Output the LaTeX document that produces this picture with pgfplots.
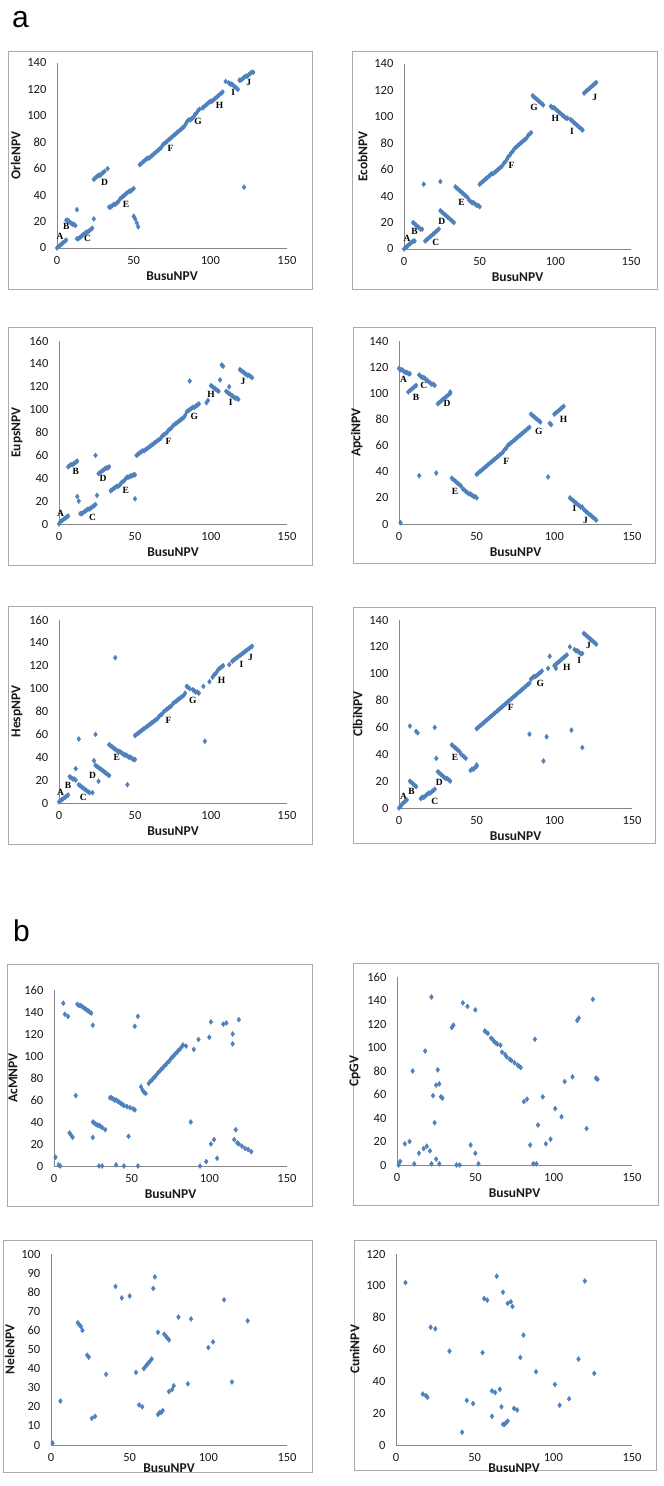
\documentclass[border=0pt]{standalone}
\usepackage{fontspec}
\setmainfont{Carlito}
\newfontfamily\serifl{Liberation Serif}
\newfontfamily\arialf{Liberation Sans}
\usepackage{pgfplots}
\pgfplotsset{compat=1.18}
\definecolor{ptblue}{RGB}{79,129,189}
\definecolor{axgray}{RGB}{134,134,134}
\definecolor{framegray}{RGB}{170,170,170}

\pgfplotsset{
  panel/.style={
    scale only axis, anchor=south west, clip=false,
    xmin=0, xmax=150, ymin=0, xtick={0,50,100,150},
    axis x line=bottom, axis y line=left,
    axis line style={draw=axgray, -},
    tick style={draw=none},
    tick label style={font=\fontsize{12.5}{12.5}\selectfont, text=black!90},
    /pgf/number format/assume math mode=true,
    xlabel={BusuNPV},
    label style={font=\fontsize{13.5}{13.5}\selectfont\bfseries, text=black!90},
    yticklabel style={xshift=-5pt},
    xticklabel style={yshift=-3pt},
  },
  pts/.style={only marks, mark=diamond*, mark size=2.5pt, color=ptblue},
}
\tikzset{lab/.style={font=\serifl\bfseries\fontsize{9.5}{9.5}\selectfont, inner sep=0pt}}

\begin{document}
\begin{tikzpicture}
\path[use as bounding box, fill=white] (0pt,0pt) rectangle (664pt,1486pt);

% panel frames
\begin{scope}[x=1pt,y=1pt]
\draw[framegray] (8,1197) rectangle (312,1435);
\draw[framegray] (352,1197) rectangle (657,1435);
\draw[framegray] (8,921) rectangle (312,1159);
\draw[framegray] (353,923) rectangle (655,1159);
\draw[framegray] (8,642) rectangle (312,880);
\draw[framegray] (353,643) rectangle (655,879);
\draw[framegray] (7,280) rectangle (312,522);
\draw[framegray] (353,281) rectangle (658,523);
\draw[framegray] (3,14) rectangle (312,246);
\draw[framegray] (354,16) rectangle (656,246);
\node[font=\arialf\fontsize{30}{30}\selectfont, anchor=base west, inner sep=0pt] at (12,1458) {a};
\node[font=\arialf\fontsize{30}{30}\selectfont, anchor=base west, inner sep=0pt] at (13,544) {b};
\end{scope}

% ---- a: OrleNPV
\begin{axis}[panel, at={(57pt,1238pt)}, width=230pt, height=185pt, ymax=140, ytick={0,20,...,140}, ylabel={OrleNPV}]
\addplot[pts] coordinates {
(0,0) (1,1) (2,2) (3,3) (4,4) (5,5) (6,6)
(6,21) (7,21) (8,20) (9,19) (10,18) (11,18) (12,17) (13,29)
(13,7) (14,7) (15,8) (16,9) (17,10) (18,11) (19,12) (20,12) (21,13) (22,14) (23,15) (24,22)
(24,52) (25,53) (26,54) (27,55) (28,55) (29,56) (30,57) (31,58) (33,60)
(34,31) (35,31) (36,32) (37,33) (38,33) (39,34) (40,35) (41,37) (42,38) (43,39) (44,40) (45,41) (46,42) (47,43) (48,43) (49,44) (50,45)
(50,24) (51,22) (52,19) (53,16)
(54,63) (55,64) (56,65) (57,66) (58,67) (59,68) (60,68) (61,69) (62,70) (63,71) (64,72) (65,73) (66,74) (67,75) (68,76) (69,78) (70,79) (71,80) (72,81) (73,82) (74,83) (75,84) (76,85) (77,86) (78,87) (79,88) (80,89) (81,90) (82,91) (83,92) (84,94)
(85,96) (86,97) (87,97) (88,98) (89,99) (90,101) (91,102) (92,104) (93,105)
(95,106) (96,107) (97,108) (98,109) (99,110) (100,111) (101,111) (102,112) (103,113) (104,114) (105,115) (106,116) (107,117) (108,118)
(110,126) (112,125) (113,124) (114,124) (115,123) (116,122) (117,121) (118,120)
(119,127) (120,127) (121,128) (122,129) (123,130) (124,130) (125,131) (126,132) (127,133) (128,133)
(122,46)
};
\node[lab] at (axis cs:2,9) {A}; \node[lab] at (axis cs:6,16) {B};
\node[lab] at (axis cs:20,7) {C}; \node[lab] at (axis cs:31,50) {D};
\node[lab] at (axis cs:45,33) {E}; \node[lab] at (axis cs:74,75) {F};
\node[lab] at (axis cs:92,96) {G}; \node[lab] at (axis cs:106,108) {H};
\node[lab] at (axis cs:115,118) {I}; \node[lab] at (axis cs:125,125) {J};
\end{axis}

% ---- a: EcobNPV
\begin{axis}[panel, at={(404pt,1237pt)}, width=227pt, height=185pt, ymax=140, ytick={0,20,...,140}, ylabel={EcobNPV}]
\addplot[pts] coordinates {
(0,0) (1,1) (2,2) (3,3) (4,4) (5,5) (6,6) (7,6)
(6,20) (7,19) (8,18) (9,17) (10,16) (11,15) (12,15)
(13,49) (24,51)
(14,6) (15,7) (16,8) (17,9) (18,10) (19,11) (20,12) (21,13) (22,14) (23,15)
(24,29) (25,28) (26,27) (27,26) (28,25) (29,24) (30,23) (31,22) (32,21) (33,20)
(34,47) (35,46) (36,45) (37,44) (38,43) (39,42) (40,41) (41,40) (42,39) (43,37) (44,36) (45,35) (46,35) (47,34) (48,33) (49,33) (50,32)
(50,49) (51,50) (52,51) (53,52) (54,53) (55,54) (56,55) (57,56) (58,57) (59,57) (60,58) (61,59) (62,60) (63,61) (64,62) (65,63) (66,65) (67,66) (68,68) (69,70) (70,71) (71,73) (72,74) (73,76) (74,77) (75,78) (76,79) (77,80) (78,81) (79,82) (80,83) (81,84) (82,86) (83,87) (84,88)
(85,116) (86,115) (87,114) (88,113) (89,112) (90,111) (91,110) (92,109)
(97,108) (98,107) (99,107) (100,106) (101,105) (102,104) (103,103) (104,102) (105,101) (106,100) (107,99) (108,99)
(110,98) (111,97) (112,96) (113,95) (114,94) (115,93) (116,92) (117,91) (118,90)
(119,118) (120,119) (121,120) (122,121) (123,122) (124,123) (125,124) (126,125) (127,126)
};
\node[lab] at (axis cs:2,8) {A}; \node[lab] at (axis cs:7,13) {B};
\node[lab] at (axis cs:21,5) {C}; \node[lab] at (axis cs:25,21) {D};
\node[lab] at (axis cs:38,35) {E}; \node[lab] at (axis cs:71,63) {F};
\node[lab] at (axis cs:86,107) {G}; \node[lab] at (axis cs:100,99) {H};
\node[lab] at (axis cs:111,89) {I}; \node[lab] at (axis cs:126,115) {J};
\end{axis}

% ---- a: EupsNPV
\begin{axis}[panel, at={(59pt,962pt)}, width=228pt, height=183pt, ymax=160, ytick={0,20,...,160}, ylabel={EupsNPV}]
\addplot[pts] coordinates {
(0,0) (1,2) (2,3) (3,4) (4,5) (5,6) (6,7)
(6,50) (7,51) (8,52) (9,52) (10,53) (11,54) (12,55)
(12,24) (13,20)
(14,9) (15,9) (16,10) (17,11) (18,12) (19,13) (20,13) (21,14) (22,15) (23,16) (24,17)
(25,25) (24,60)
(26,44) (27,45) (28,46) (29,47) (30,48) (31,49) (32,49) (33,50)
(34,29) (35,30) (36,31) (37,32) (38,33) (39,33) (40,34) (41,36) (42,37) (43,38) (44,40) (45,41) (46,41) (47,42) (48,42) (49,43) (50,43)
(50,22)
(51,60) (52,61) (53,62) (54,63) (55,64) (56,64) (57,65) (58,66) (59,67) (60,68) (61,69) (62,70) (63,71) (64,72) (65,73) (66,74) (67,75) (68,77) (69,78) (70,79) (71,80) (72,82) (73,83) (74,84) (75,86) (76,87) (77,88) (78,89) (79,90) (80,91) (81,92) (82,93) (83,95)
(84,98) (85,99) (86,100) (87,101) (88,102) (89,102) (90,103) (91,104) (92,105)
(86,125) (97,106) (98,108)
(100,121) (101,120) (102,119) (103,118) (104,117) (105,116)
(106,126) (107,139) (108,138) (112,120)
(110,116) (111,115) (112,114) (113,113) (114,112) (115,111) (116,110) (117,110) (118,109)
(119,135) (120,134) (121,133) (122,132) (123,131) (124,130) (125,130) (126,129) (127,128)
};
\node[lab] at (axis cs:1,9) {A}; \node[lab] at (axis cs:11,46) {B};
\node[lab] at (axis cs:22,6) {C}; \node[lab] at (axis cs:29,40) {D};
\node[lab] at (axis cs:44,29) {E}; \node[lab] at (axis cs:72,72) {F};
\node[lab] at (axis cs:89,94) {G}; \node[lab] at (axis cs:100,113) {H};
\node[lab] at (axis cs:113,106) {I}; \node[lab] at (axis cs:121,125) {J};
\end{axis}

% ---- a: ApciNPV
\begin{axis}[panel, at={(399pt,962pt)}, width=233pt, height=183pt, ymax=140, ytick={0,20,...,140}, ylabel={ApciNPV}]
\addplot[pts] coordinates {
(1,1)
(0,119) (1,118) (2,118) (3,117) (4,116) (5,116) (6,115) (7,115)
(6,101) (7,102) (8,103) (9,104) (10,105) (11,106)
(13,114) (14,113) (15,112) (16,112) (17,111) (18,110) (19,109) (20,108) (21,107) (22,107) (23,106)
(25,92) (26,93) (27,94) (28,95) (29,96) (30,97) (31,98) (32,99) (33,100) (33,101)
(13,37) (24,39)
(34,35) (35,34) (36,33) (37,32) (38,31) (39,30) (40,29) (41,27) (42,26) (43,25) (44,24) (45,23) (46,23) (47,22) (48,21) (49,21) (50,20)
(50,38) (51,39) (52,40) (53,41) (54,42) (55,43) (56,44) (57,45) (58,46) (59,47) (60,48) (61,49) (62,50) (63,51) (64,52) (65,53) (66,54) (67,55) (68,57) (69,58) (70,60) (71,61) (72,62) (73,63) (74,64) (75,65) (76,66) (77,67) (78,68) (79,69) (80,70) (81,71) (82,72) (83,73) (84,74)
(85,84) (86,83) (87,82) (88,81) (89,80) (90,79) (91,78)
(97,77) (98,76)
(100,84) (101,85) (102,86) (103,87) (104,88) (105,89) (106,90)
(96,36)
(110,20) (111,19) (112,18) (113,17) (114,16) (115,15) (116,14) (117,13) (118,13)
(119,11) (120,10) (121,9) (122,8) (123,7) (124,6) (125,5) (126,4) (127,3)
};
\node[lab] at (axis cs:3,111) {A}; \node[lab] at (axis cs:11,97) {B};
\node[lab] at (axis cs:16,106) {C}; \node[lab] at (axis cs:31,92) {D};
\node[lab] at (axis cs:36,25) {E}; \node[lab] at (axis cs:69,48) {F};
\node[lab] at (axis cs:90,71) {G}; \node[lab] at (axis cs:106,80) {H};
\node[lab] at (axis cs:113,12) {I}; \node[lab] at (axis cs:120,3) {J};
\end{axis}

% ---- a: HespNPV
\begin{axis}[panel, at={(59pt,683pt)}, width=228pt, height=183pt, ymax=160, ytick={0,20,...,160}, ylabel={HespNPV}]
\addplot[pts] coordinates {
(0,1) (1,2) (2,3) (3,4) (4,5) (5,6) (6,7)
(7,23) (8,22) (9,21) (10,21) (11,20) (11,30)
(13,16) (14,15) (15,14) (16,13) (17,12) (18,11) (19,10) (20,9) (22,9)
(23,37)
(24,33) (25,32) (26,31) (27,30) (28,29) (29,28) (30,27) (31,26) (32,25) (33,24)
(26,19) (45,16)
(13,56) (24,60) (37,127)
(33,51) (34,50) (35,49) (36,48) (37,47) (38,46) (39,45) (40,45) (41,44) (42,43) (43,42) (44,42) (45,41) (46,40) (47,40) (48,39) (49,38) (50,38)
(50,59) (51,60) (52,61) (53,62) (54,63) (55,64) (56,65) (57,66) (58,67) (59,68) (60,69) (61,70) (62,71) (63,72) (64,73) (65,74) (66,76) (67,77) (68,78) (69,80) (70,81) (71,82) (72,83) (73,84) (74,85) (75,87) (76,88) (77,89) (78,90) (79,91) (80,92) (81,93) (82,94) (83,96)
(84,102) (85,101) (86,100) (88,99) (89,98) (90,97) (91,97) (92,96)
(95,102) (99,106) (96,54)
(101,110) (102,112) (103,113) (104,115) (105,117) (106,118) (107,119) (108,120) (112,121)
(114,124) (115,125) (116,126) (117,127) (118,128) (119,129) (120,130) (121,131) (122,132) (123,133) (124,134) (125,135) (126,136) (127,137)
};
\node[lab] at (axis cs:1,9) {A}; \node[lab] at (axis cs:6,15) {B};
\node[lab] at (axis cs:16,5) {C}; \node[lab] at (axis cs:22,24) {D};
\node[lab] at (axis cs:38,40) {E}; \node[lab] at (axis cs:72,72) {F};
\node[lab] at (axis cs:88,90) {G}; \node[lab] at (axis cs:107,107) {H};
\node[lab] at (axis cs:120,121) {I}; \node[lab] at (axis cs:126,127) {J};
\end{axis}

% ---- a: ClbiNPV
\begin{axis}[panel, at={(399pt,678pt)}, width=233pt, height=188pt, ymax=140, ytick={0,20,...,140}, ylabel={ClbiNPV}]
\addplot[pts] coordinates {
(0,0) (1,1) (2,3) (3,4) (4,5) (5,6)
(7,20) (8,19) (9,18) (10,17) (11,16)
(14,7) (15,8) (16,8) (17,9) (18,10) (19,11) (20,11) (21,12) (22,13) (23,14)
(25,27) (26,26) (27,25) (28,24) (29,23) (30,22) (31,22) (32,21) (33,20)
(24,37) (7,61) (11,57) (12,56) (23,60)
(34,47) (35,46) (36,45) (37,44) (38,43) (39,42) (40,40) (41,39) (42,38) (43,37)
(46,28) (47,29) (48,29) (49,30) (50,31) (50,32)
(50,59) (51,60) (52,61) (53,62) (54,63) (55,64) (56,65) (57,66) (58,67) (59,68) (60,69) (61,70) (62,71) (63,72) (64,73) (65,74) (66,75) (67,76) (68,77) (69,78) (70,79) (71,80) (72,81) (73,82) (74,83) (75,84) (76,85) (77,86) (78,87) (79,88) (80,89) (81,90) (82,91) (83,92) (84,93)
(85,96) (86,97) (87,98) (88,98) (89,99) (90,100) (91,101) (92,102)
(84,55) (95,53) (96,104) (97,113)
(100,106) (101,104) (101,107) (102,108) (103,109) (104,110) (105,111) (106,112) (107,113) (108,114)
(110,120)
(113,118) (114,117) (115,117) (116,116) (117,115) (118,115)
(119,130) (120,129) (121,128) (122,127) (123,126) (124,125) (125,124) (126,123) (127,122)
(111,58) (118,45) (93,35)
};
\node[lab] at (axis cs:3,9) {A}; \node[lab] at (axis cs:8,12) {B};
\node[lab] at (axis cs:23,5) {C}; \node[lab] at (axis cs:26,19) {D};
\node[lab] at (axis cs:36,38) {E}; \node[lab] at (axis cs:72,75) {F};
\node[lab] at (axis cs:91,93) {G}; \node[lab] at (axis cs:108,105) {H};
\node[lab] at (axis cs:116,110) {I}; \node[lab] at (axis cs:122,121) {J};
\end{axis}

% ---- b: AcMNPV
\begin{axis}[panel, at={(54pt,320pt)}, width=233pt, height=176pt, ymax=160, ytick={0,20,...,160}, ylabel={AcMNPV}]
\addplot[pts] coordinates {
(1,8) (3,1) (4,0)
(6,148) (7,138) (9,136)
(10,30) (11,28) (12,26) (14,64)
(15,147) (16,146) (17,146) (18,145) (19,144) (20,143) (21,142) (22,141) (23,140) (24,139)
(25,128)
(25,40) (26,39) (27,38) (28,37) (29,37) (30,36) (31,35) (33,33)
(25,26) (29,0) (31,0) (40,1) (45,0) (54,0)
(36,62) (37,62) (38,61) (39,60) (40,60) (41,59) (42,58) (43,57) (44,56) (45,55) (47,54) (49,53) (51,52) (52,51)
(48,27) (52,127) (54,136)
(56,72) (57,69) (58,67) (59,66)
(61,75) (62,77) (63,78) (64,80) (65,81) (66,83) (67,85) (68,86) (69,88) (70,89) (71,91) (72,92) (73,94) (74,95) (75,97) (76,99) (77,100) (78,102) (79,103) (80,105) (81,106) (82,108) (83,110)
(85,109) (90,106) (93,115) (100,117) (101,131) (109,129) (111,130) (115,120) (115,111) (119,133)
(88,40) (94,0) (98,4) (101,20) (103,24) (105,7)
(117,33) (116,24) (118,21) (119,20) (121,18) (123,16) (125,15) (127,13)
};
\end{axis}

% ---- b: CpGV
\begin{axis}[panel, at={(397pt,321pt)}, width=235pt, height=188pt, ymax=160, ytick={0,20,...,160}, ylabel={CpGV}]
\addplot[pts] coordinates {
(1,0) (2,3) (5,18) (8,20) (11,1) (14,10) (17,14) (19,16) (21,12) (22,1) (24,36) (25,5) (27,1)
(38,0) (40,0) (47,17) (50,10) (52,1) (85,17) (87,1) (89,1) (95,18) (98,22)
(22,143) (10,80) (18,97) (23,59) (26,81) (25,68) (27,69) (28,58) (29,57)
(35,117) (36,119) (42,138) (45,135) (50,132)
(56,114) (57,113) (58,112) (60,108) (61,107) (62,105) (63,104) (64,103) (66,102) (67,96) (69,94) (70,92) (72,90) (73,89) (75,87) (77,85) (78,84) (79,83)
(81,54) (83,56) (88,107) (93,58) (90,34) (101,48) (105,41) (107,71) (112,75)
(115,123) (116,125) (125,141) (121,31) (127,74) (128,73)
};
\end{axis}

% ---- b: NeleNPV
\begin{axis}[panel, at={(51pt,41pt)}, width=236pt, height=191pt, ymax=100, ytick={0,10,...,100}, ylabel={NeleNPV},
  xlabel style={at={(axis description cs:0.5,0)}, anchor=center, yshift=-23pt}]
\addplot[pts] coordinates {
(1,1) (6,23)
(17,64) (18,63) (19,62) (20,60)
(23,47) (24,46) (26,14) (28,15) (35,37)
(41,83) (45,77) (50,78) (54,38) (56,21) (58,20)
(59,40) (60,41) (61,42) (62,43) (63,44) (64,45)
(65,82) (66,88) (68,59)
(68,16) (69,17) (70,17) (71,18)
(72,58) (73,57) (74,56) (75,55)
(75,28) (77,29) (78,31) (81,67) (87,32) (89,66)
(100,51) (103,54) (110,76) (115,33) (125,65)
};
\end{axis}

% ---- b: CuniNPV
\begin{axis}[panel, at={(396pt,41pt)}, width=236pt, height=191pt, ymax=120, ytick={0,20,...,120}, ylabel={CuniNPV},
  xlabel style={at={(axis description cs:0.5,0)}, anchor=center, yshift=-23pt}]
\addplot[pts] coordinates {
(6,102) (17,32) (19,31) (20,30) (22,74) (25,73) (34,59) (42,8) (45,28) (49,26)
(55,58) (56,92) (58,91) (61,18) (61,34) (63,33) (64,106) (66,35) (67,24) (68,96)
(68,13) (69,13) (70,14) (71,15) (71,89) (73,90) (74,87) (75,23) (77,22)
(79,55) (81,69) (89,46) (101,38) (104,25) (110,29) (116,54) (120,103) (126,45)
};
\end{axis}
\end{tikzpicture}
\end{document}
